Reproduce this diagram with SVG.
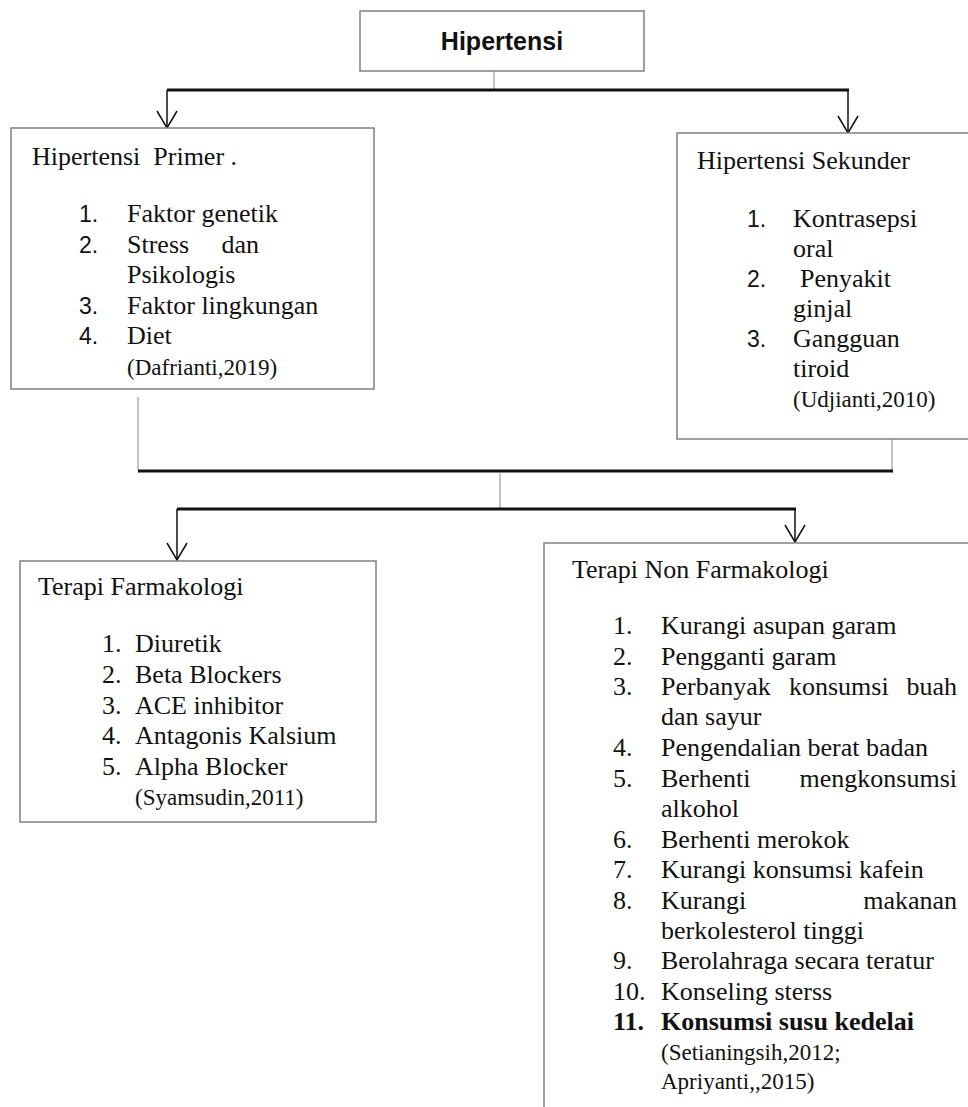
<svg xmlns="http://www.w3.org/2000/svg" width="968" height="1107" viewBox="0 0 968 1107">
<defs>
<style>
.box{fill:#fff;stroke:#808080;stroke-width:1.5}
.t{font-family:"Liberation Serif","Times New Roman",serif;font-size:26px;fill:#111}
.c{font-family:"Liberation Serif","Times New Roman",serif;font-size:23px;fill:#111}
.n{font-family:"Liberation Sans",Arial,sans-serif;font-size:23px;fill:#111}
.b{font-weight:bold}
.thick{stroke:#111;stroke-width:2.8;fill:none}
.thin{stroke:#999;stroke-width:1.2;fill:none}
.arr{stroke:#111;stroke-width:1.5;fill:none;marker-end:url(#v)}
</style>
<marker id="v" markerUnits="userSpaceOnUse" markerWidth="40" markerHeight="40" refX="0" refY="0" orient="auto" overflow="visible">
<path d="M -17 -10 L 0 0 L -17 10" fill="none" stroke="#111" stroke-width="1.5"/>
</marker>
</defs>
<rect width="968" height="1107" fill="#fff"/>

<g id="connectors">
<line class="thin" x1="494" y1="71" x2="494" y2="89"/>
<line class="thick" x1="167" y1="90" x2="849" y2="90"/>
<line class="arr" x1="167" y1="90" x2="167" y2="128"/>
<line class="arr" x1="848" y1="90" x2="848" y2="133"/>
<line class="thin" x1="138" y1="397" x2="138" y2="470"/>
<line class="thin" x1="892" y1="439" x2="892" y2="470"/>
<line class="thick" x1="138" y1="471" x2="893" y2="471"/>
<line class="thin" x1="500" y1="472" x2="500" y2="508"/>
<line class="thick" x1="177" y1="509" x2="796" y2="509"/>
<line class="arr" x1="177" y1="509" x2="177" y2="560"/>
<line class="arr" x1="795" y1="509" x2="795" y2="542"/>
</g>

<g id="hipertensi">
<rect class="box" x="360" y="11" width="284" height="60"/>
<text x="502" y="50" text-anchor="middle" font-family="'Liberation Sans',Arial,sans-serif" font-size="25" font-weight="bold" fill="#111">Hipertensi</text>
</g>

<g id="primer">
<rect class="box" x="11" y="128" width="363" height="261"/>
<text class="t" x="32" y="165" xml:space="preserve">Hipertensi  Primer .</text>
<text class="n" x="79" y="222">1.</text><text class="t" x="127" y="222">Faktor genetik</text>
<text class="n" x="79" y="253">2.</text><text class="t" x="127" y="253">Stress</text><text class="t" x="259" y="253" text-anchor="end">dan</text>
<text class="t" x="127" y="283">Psikologis</text>
<text class="n" x="79" y="314">3.</text><text class="t" x="127" y="314">Faktor lingkungan</text>
<text class="n" x="79" y="344">4.</text><text class="t" x="127" y="344">Diet</text>
<text class="c" x="127" y="375">(Dafrianti,2019)</text>
</g>

<g id="sekunder">
<rect class="box" x="677" y="133" width="300" height="306"/>
<text class="t" x="697" y="169">Hipertensi Sekunder</text>
<text class="n" x="747" y="227">1.</text><text class="t" x="793" y="227">Kontrasepsi</text>
<text class="t" x="793" y="257">oral</text>
<text class="n" x="747" y="287">2.</text><text class="t" x="800" y="287">Penyakit</text>
<text class="t" x="793" y="317">ginjal</text>
<text class="n" x="747" y="347">3.</text><text class="t" x="793" y="347">Gangguan</text>
<text class="t" x="793" y="377">tiroid</text>
<text class="c" x="793" y="407">(Udjianti,2010)</text>
</g>

<g id="farmakologi">
<rect class="box" x="20" y="561" width="356" height="261"/>
<text class="t" x="38" y="595">Terapi Farmakologi</text>
<text class="t" x="102" y="652">1.</text><text class="t" x="135" y="652">Diuretik</text>
<text class="t" x="102" y="683">2.</text><text class="t" x="135" y="683">Beta Blockers</text>
<text class="t" x="102" y="714">3.</text><text class="t" x="135" y="714">ACE inhibitor</text>
<text class="t" x="102" y="744">4.</text><text class="t" x="135" y="744">Antagonis Kalsium</text>
<text class="t" x="102" y="775">5.</text><text class="t" x="135" y="775">Alpha Blocker</text>
<text class="c" x="135" y="805">(Syamsudin,2011)</text>
</g>

<g id="nonfarmakologi">
<rect class="box" x="544" y="543" width="440" height="580"/>
<text class="t" x="572" y="578">Terapi Non Farmakologi</text>
<text class="t" x="613" y="634">1.</text><text class="t" x="661" y="634">Kurangi asupan garam</text>
<text class="t" x="613" y="665">2.</text><text class="t" x="661" y="665">Pengganti garam</text>
<text class="t" x="613" y="695">3.</text><text class="t" x="661" y="695">Perbanyak</text><text class="t" x="789" y="695">konsumsi</text><text class="t" x="957" y="695" text-anchor="end">buah</text>
<text class="t" x="661" y="725">dan sayur</text>
<text class="t" x="613" y="756">4.</text><text class="t" x="661" y="756">Pengendalian berat badan</text>
<text class="t" x="613" y="787">5.</text><text class="t" x="661" y="787">Berhenti</text><text class="t" x="957" y="787" text-anchor="end">mengkonsumsi</text>
<text class="t" x="661" y="817">alkohol</text>
<text class="t" x="613" y="848">6.</text><text class="t" x="661" y="848">Berhenti merokok</text>
<text class="t" x="613" y="878">7.</text><text class="t" x="661" y="878">Kurangi konsumsi kafein</text>
<text class="t" x="613" y="909">8.</text><text class="t" x="661" y="909">Kurangi</text><text class="t" x="957" y="909" text-anchor="end">makanan</text>
<text class="t" x="661" y="939">berkolesterol tinggi</text>
<text class="t" x="613" y="969">9.</text><text class="t" x="661" y="969">Berolahraga secara teratur</text>
<text class="t" x="613" y="1000">10.</text><text class="t" x="661" y="1000">Konseling sterss</text>
<text class="t b" x="613" y="1030">11.</text><text class="t b" x="661" y="1030">Konsumsi susu kedelai</text>
<text class="c" x="661" y="1060">(Setianingsih,2012;</text>
<text class="c" x="661" y="1089">Apriyanti,,2015)</text>
</g>
</svg>
